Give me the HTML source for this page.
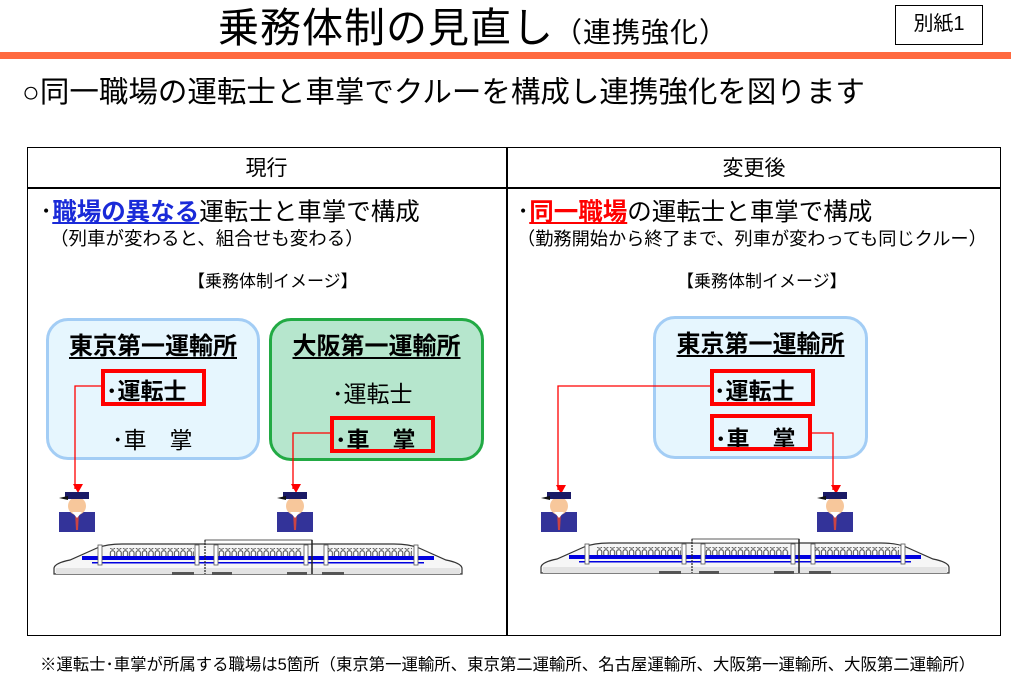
<!DOCTYPE html>
<html><head><meta charset="utf-8">
<style>
*{margin:0;padding:0;box-sizing:border-box}
body{width:1011px;height:684px;background:#fff;position:relative;overflow:hidden;font-family:"Liberation Sans","Noto Sans CJK JP",sans-serif;color:#000}
.a{position:absolute;white-space:nowrap}
.box{position:absolute;border-radius:22px}
.ttl{font-size:24px;font-weight:bold;text-decoration:underline;text-decoration-thickness:2px;text-underline-offset:3px;text-align:center}
.rb{position:absolute;border:4px solid #f00}
.it{font-size:23px;font-weight:bold}
</style></head><body>
<div class="a" style="left:218px;top:4px;font-size:41px;line-height:48px;letter-spacing:1px">乗務体制の見直し<span style="font-size:28px">（連携強化）</span></div>
<div class="a" style="left:895px;top:5px;width:88px;height:40px;border:1.5px solid #000;font-size:20px;line-height:37px;text-align:center">別紙1</div>
<div class="a" style="left:0;top:52px;width:1011px;height:7px;background:#ff6a40"></div>
<div class="a" style="left:22px;top:74px;font-size:29.5px;line-height:38px">○同一職場の運転士と車掌でクルーを構成し連携強化を図ります</div>

<div class="a" style="left:27px;top:147px;width:974px;height:489px;border:1.5px solid #000"></div>
<div class="a" style="left:27px;top:187px;width:974px;height:1.5px;background:#000"></div>
<div class="a" style="left:506px;top:147px;width:1.5px;height:489px;background:#000"></div>
<div class="a" style="left:27px;top:152px;width:479px;text-align:center;font-size:21px">現行</div>
<div class="a" style="left:507px;top:152px;width:494px;text-align:center;font-size:21px">変更後</div>

<div class="a" style="left:40px;top:193px;font-size:24.5px"><span>･</span><span style="color:#1a2ad8;font-weight:bold;text-decoration:underline">職場の異なる</span>運転士と車掌で構成</div>
<div class="a" style="left:50px;top:225px;font-size:18.5px">（列車が変わると、組合せも変わる）</div>
<div class="a" style="left:188px;top:267px;font-size:17px">【乗務体制イメージ】</div>

<div class="a" style="left:517px;top:193px;font-size:24.5px"><span>･</span><span style="color:#f00;font-weight:bold;text-decoration:underline">同一職場</span>の運転士と車掌で構成</div>
<div class="a" style="left:517px;top:225px;font-size:18.2px">（勤務開始から終了まで、列車が変わっても同じクルー）</div>
<div class="a" style="left:677px;top:267px;font-size:17px">【乗務体制イメージ】</div>

<div class="box" style="left:46px;top:318px;width:214px;height:142px;background:#e6f6fe;border:3px solid #a3cdf5"></div>
<div class="a ttl" style="left:46px;top:326px;width:214px">東京第一運輸所</div>
<div class="a it" style="left:106px;top:372px">･運転士</div>
<div class="a it" style="left:112px;top:421px;font-weight:normal">･車　掌</div>
<div class="rb" style="left:101px;top:369px;width:105px;height:37px"></div>

<div class="box" style="left:269px;top:318px;width:215px;height:143px;background:#b6e6cd;border:3px solid #22aa44"></div>
<div class="a ttl" style="left:269px;top:326px;width:215px">大阪第一運輸所</div>
<div class="a it" style="left:332px;top:375px;font-weight:normal">･運転士</div>
<div class="a it" style="left:335px;top:421px">･車　掌</div>
<div class="rb" style="left:330px;top:416px;width:105px;height:37px"></div>

<div class="box" style="left:653px;top:316px;width:215px;height:143px;background:#e6f6fe;border:3px solid #a3cdf5"></div>
<div class="a ttl" style="left:653px;top:324px;width:215px">東京第一運輸所</div>
<div class="a it" style="left:714px;top:372px">･運転士</div>
<div class="a it" style="left:715px;top:420px">･車　掌</div>
<div class="rb" style="left:710px;top:369px;width:105px;height:37px"></div>
<div class="rb" style="left:710px;top:414px;width:102px;height:37px"></div>

<svg class="a" style="left:0;top:0" width="1011" height="684">
<defs>
<marker id="ar" markerWidth="10" markerHeight="10" refX="5" refY="8" orient="auto" markerUnits="userSpaceOnUse"><path d="M0,0 L10,0 L5,9 Z" fill="#f00" transform="rotate(-90 5 5)"/></marker>
<g id="p">
<rect x="1" y="20" width="36" height="20" fill="#333399"/>
<circle cx="19" cy="14" r="9" fill="#f7c79b"/>
<rect x="7" y="0" width="24" height="7" fill="#1a1a66"/>
<path d="M1,6 L10,4 L10,8 Z" fill="#111"/>
<path d="M17,20 L21,20 L20,38 L18,38 Z" fill="#c44"/>
<path d="M14,20 L19,26 L24,20" fill="#fff"/>
</g>
<pattern id="w" x="0" y="0" width="6.4" height="8" patternUnits="userSpaceOnUse"><rect x="0.8" y="0.8" width="4.4" height="6.4" rx="2" fill="#fff" stroke="#333" stroke-width="0.9"/></pattern>
<g id="t">
<path d="M2,34 Q3,29 18,26 L45,14 Q55,10 70,10 L342,10 Q357,10 367,14 L394,26 Q409,29 410,34 L410,40 L2,40 Z" fill="#f6f6f6" stroke="#333" stroke-width="1.2"/>
<rect x="153" y="6" width="107" height="4" fill="#fff" stroke="#333" stroke-width="0.8"/>
<rect x="4" y="34" width="404" height="6" fill="#e3e3e3"/>
<rect x="30" y="22" width="352" height="4" fill="#0000e0"/>
<rect x="40" y="28" width="332" height="1.5" fill="#0000e0"/>
<rect x="57" y="14" width="85" height="8" fill="url(#w)"/>
<rect x="166" y="14" width="84" height="8" fill="url(#w)"/>
<rect x="275" y="14" width="85" height="8" fill="url(#w)"/>
<rect x="46" y="11" width="4" height="20" fill="#fff" stroke="#555" stroke-width="0.8"/>
<rect x="143" y="11" width="4" height="20" fill="#fff" stroke="#555" stroke-width="0.8"/>
<rect x="162" y="11" width="4" height="20" fill="#fff" stroke="#555" stroke-width="0.8"/>
<rect x="252" y="11" width="4" height="20" fill="#fff" stroke="#555" stroke-width="0.8"/>
<rect x="272" y="11" width="4" height="20" fill="#fff" stroke="#555" stroke-width="0.8"/>
<rect x="362" y="11" width="4" height="20" fill="#fff" stroke="#555" stroke-width="0.8"/>
<line x1="153" y1="6" x2="153" y2="40" stroke="#222" stroke-width="1.2" stroke-dasharray="2 1"/>
<line x1="260" y1="6" x2="260" y2="40" stroke="#222" stroke-width="1.5"/>
<rect x="120" y="38" width="22" height="3" fill="#555"/><rect x="160" y="38" width="20" height="3" fill="#555"/>
<rect x="235" y="38" width="20" height="3" fill="#555"/><rect x="270" y="38" width="22" height="3" fill="#555"/>
</g>
</defs>
<g fill="none" stroke="#f00" stroke-width="1.3">
<polyline points="101,386 75,386 75,489" marker-end="url(#ar)"/>
<polyline points="330,433 293,433 293,489" marker-end="url(#ar)"/>
<polyline points="710,386 558,386 558,490" marker-end="url(#ar)"/>
<polyline points="812,433 833,433 833,490" marker-end="url(#ar)"/>
</g>
<use href="#p" x="58" y="492"/>
<use href="#p" x="276" y="492"/>
<use href="#p" x="540" y="492"/>
<use href="#p" x="816" y="492"/>
<use href="#t" x="52" y="534"/>
<use href="#t" x="539" y="533"/>
</svg>

<div class="a" style="left:40px;top:651px;font-size:16.4px">※運転士･車掌が所属する職場は5箇所（東京第一運輸所、東京第二運輸所、名古屋運輸所、大阪第一運輸所、大阪第二運輸所）</div>
</body></html>
